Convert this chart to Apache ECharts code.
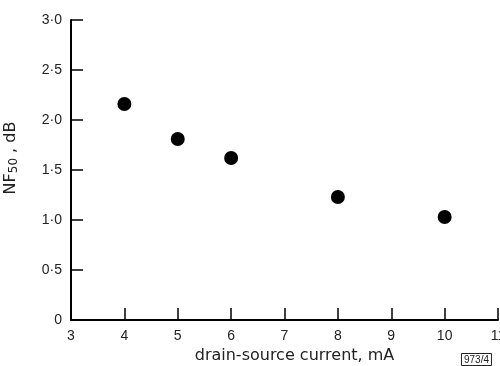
<!DOCTYPE html>
<html lang="en">
<head>
    <meta charset="UTF-8">
    <title>NF50 vs drain-source current</title>
    <script src="https://cdn.jsdelivr.net/npm/echarts@6/dist/echarts.min.js"></script>
    <style>
        html, body { margin: 0; padding: 0; background: #fff; }
        #chart { width: 500px; height: 366px; }
    </style>
</head>
<body>
    <div id="chart"></div>
    <script>
        // drain-source current (mA) and noise figure NF50 (dB)
        var current = [4, 5, 6, 8, 10];
        var noiseFigure = [2.16, 1.81, 1.62, 1.23, 1.03];

        var font = 'Liberation Sans';
        var wide = 'DejaVu Sans';
        var myChart = echarts.init(document.getElementById('chart'));

        function dotLabel(v) {
            if (v === 0) return '0';
            return v.toFixed(1).replace('.', '·');
        }

        myChart.setOption({
            backgroundColor: '#fff',
            animation: false,
            title: {
                text: '973/4',
                right: 8,
                bottom: 0,
                padding: [2, 3, 1, 3],
                borderColor: '#222',
                borderWidth: 1,
                textStyle: { fontFamily: font, fontSize: 10, fontWeight: 'normal', color: '#222' }
            },
            grid: { left: 71, right: 2, top: 20, bottom: 46, outerBoundsMode: 'none' },
            xAxis: {
                type: 'value',
                min: 3,
                max: 11,
                interval: 1,
                name: 'drain-source current, mA',
                nameLocation: 'middle',
                nameGap: 28,
                nameTextStyle: { fontFamily: wide, fontSize: 16, color: '#222', padding: [0, 0, 0, 20] },
                axisLine: { lineStyle: { color: '#000', width: 2 } },
                axisTick: { inside: true, length: 12, lineStyle: { color: '#000', width: 1.5 } },
                axisLabel: { fontFamily: font, fontSize: 14, color: '#222', margin: 9 },
                splitLine: { show: false }
            },
            yAxis: {
                type: 'value',
                min: 0,
                max: 3,
                interval: 0.5,
                name: 'NF{sub|50} , dB',
                nameLocation: 'middle',
                nameRotate: 90,
                nameGap: 51,
                nameTextStyle: {
                    fontFamily: wide, fontSize: 16, color: '#222', padding: [0, 0, 0, 24],
                    rich: { sub: { fontFamily: wide, fontSize: 12, color: '#222', verticalAlign: 'bottom', padding: [6, 0, 0, 0] } }
                },
                axisLine: { lineStyle: { color: '#000', width: 2 } },
                axisTick: { inside: true, length: 12, lineStyle: { color: '#000', width: 1.5 } },
                axisLabel: { fontFamily: font, fontSize: 14, color: '#222', margin: 9, formatter: dotLabel },
                splitLine: { show: false }
            },
            series: [{
                type: 'scatter',
                symbol: 'circle',
                symbolSize: 14,
                itemStyle: { color: '#000', opacity: 1 },
                data: current.map(function (c, i) { return [c, noiseFigure[i]]; })
            }]
        });
    </script>
</body>
</html>
